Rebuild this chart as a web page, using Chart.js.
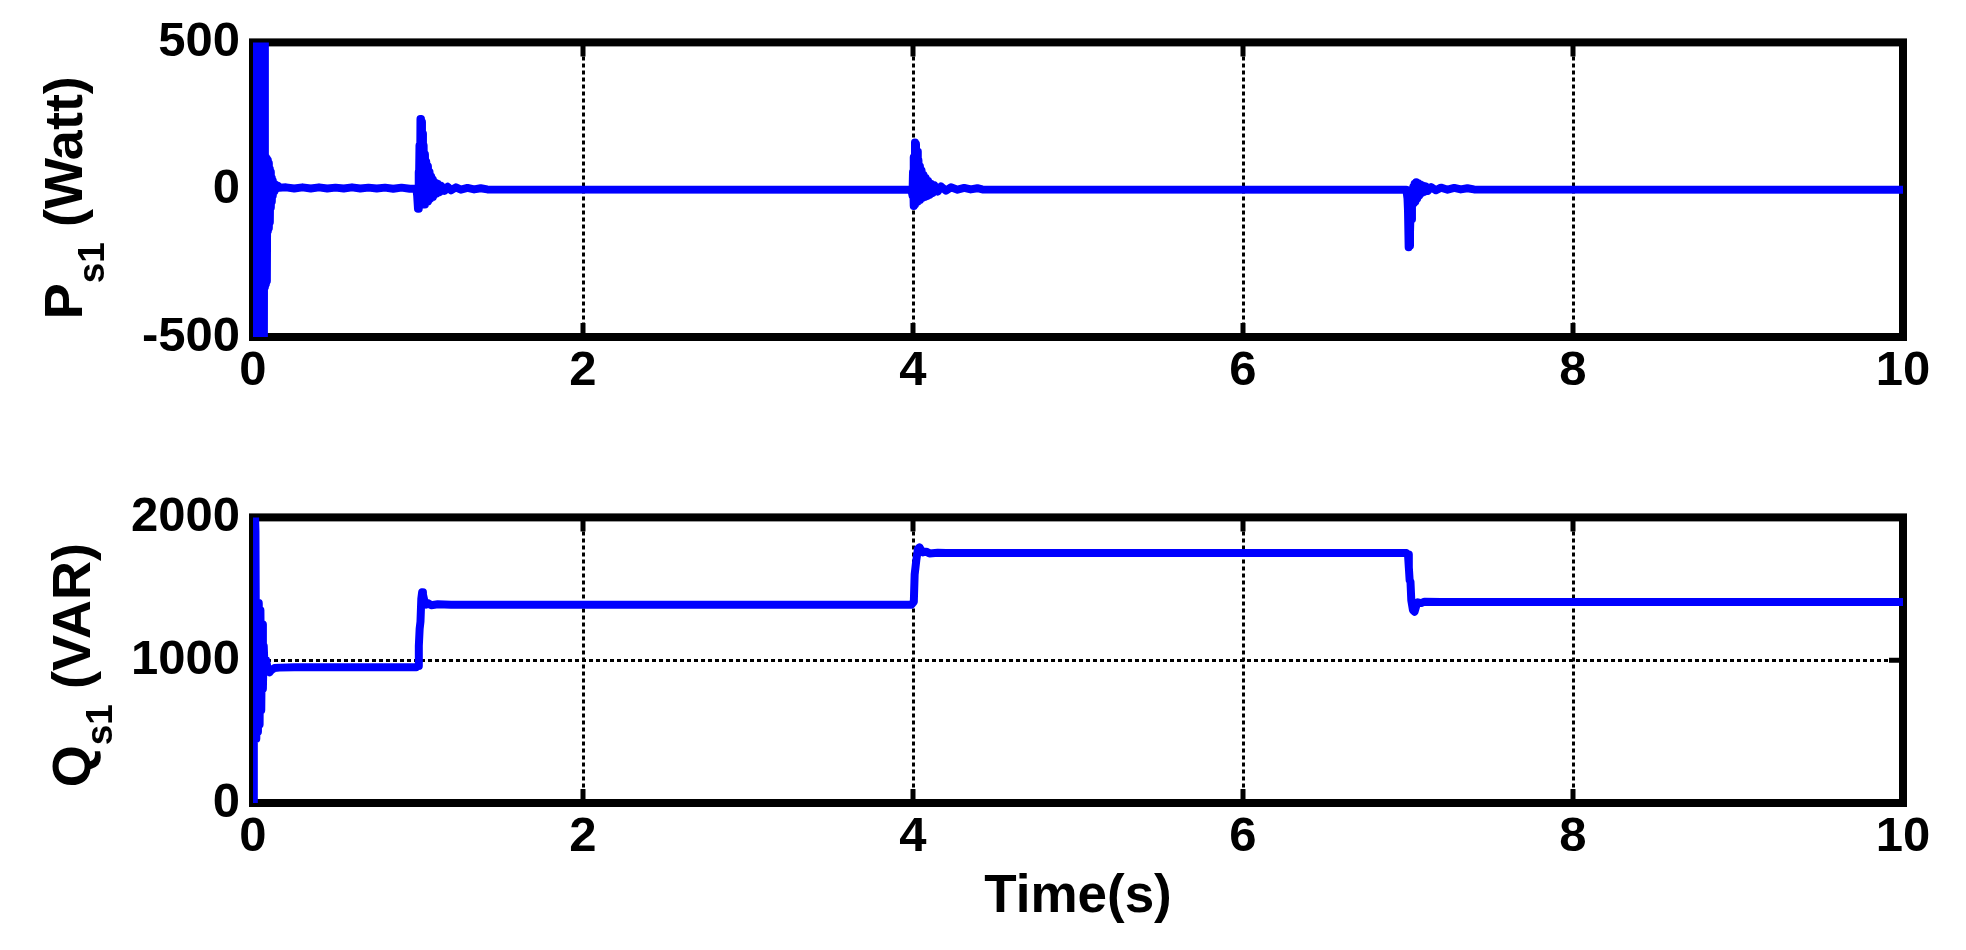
<!DOCTYPE html>
<html><head><meta charset="utf-8">
<script src="https://cdn.jsdelivr.net/npm/chart.js@4.4.0/dist/chart.umd.min.js"></script>
<style>
html,body{margin:0;padding:0;background:#fff;width:1966px;height:950px;overflow:hidden;}
.wrap{position:absolute;left:0;width:1966px;height:475px;}
#w1{top:0}
#w2{top:475px}
</style></head><body>
<div class="wrap" id="w1"><canvas id="c1" width="1966" height="475"></canvas></div>
<div class="wrap" id="w2"><canvas id="c2" width="1966" height="475"></canvas></div>
<script>
const xTicks = [0, 2, 4, 6, 8, 10];
const pTicks = [-500, 0, 500];
const qTicks = [0, 1000, 2000];
const xTitle = 'Time(s)';
const pLabel = ['P', 's1', ' (Watt)'];
const qLabel = ['Q', 's1', ' (VAR)'];

const pTime = [
0,0.003,0.006,0.009,0.012,0.015,0.018,0.021,0.024,0.027,0.030,0.033,0.036,0.039,0.042,0.045,0.048,0.051,0.054,0.057,0.060,0.063,0.066,0.069,0.072,0.075,0.078,0.081,0.084,0.087,0.090,0.093,0.096,0.099,0.102,0.105,0.108,0.111,0.114,0.117,0.120,0.125,0.130,0.135,0.140,0.150,0.160,
0.20,0.25,0.30,0.35,0.40,0.45,0.50,0.55,0.60,0.65,0.70,0.75,0.80,0.85,0.90,0.95,0.99,
0.995,1.000,1.003,1.006,1.009,1.012,1.015,1.018,1.021,1.024,1.027,1.030,1.034,1.038,1.042,1.046,1.050,1.055,1.060,1.065,1.070,1.075,1.080,1.085,1.090,1.095,1.100,1.11,1.12,1.13,1.14,1.16,1.18,1.20,1.23,1.26,1.30,1.34,1.38,1.42,
3.99,3.997,4.000,4.003,4.006,4.009,4.012,4.015,4.018,4.021,4.025,4.029,4.033,4.037,4.042,4.047,4.052,4.058,4.064,4.070,4.077,4.084,4.092,4.10,4.11,4.12,4.13,4.15,4.17,4.20,4.23,4.27,4.31,4.35,4.39,4.42,
6.99,6.997,7.000,7.004,7.008,7.012,7.016,7.020,7.024,7.028,7.032,7.036,7.040,7.045,7.050,7.056,7.062,7.068,7.075,7.083,7.09,7.10,7.11,7.12,7.14,7.17,7.20,7.24,7.28,7.32,7.36,7.40,10
];
const pValue = [
0,650,-650,640,-640,620,-630,620,-620,600,-610,600,-600,590,-590,580,-580,570,-570,560,-560,540,-530,520,-330,110,-320,105,-310,100,-140,90,-130,70,-110,60,-60,40,-40,30,-20,22,-5,18,2,14,7,
8,4,8,4,8,4,7,4,8,4,7,4,7,3,7,3,4,
-20,-65,60,-50,150,-40,240,-30,230,-45,190,-40,150,-50,120,-45,95,-40,80,-35,60,-30,45,-25,35,-20,26,-14,20,-9,14,-4,10,-2,8,0,6,1,5,1,
0,-20,60,-55,110,-50,160,-45,155,-40,130,-40,100,-35,80,-30,65,-28,50,-25,40,-22,30,-18,20,-11,15,-6,11,-3,8,0,6,1,5,1,
0,-30,-70,-195,-190,-150,-60,-100,-50,-40,10,-45,20,-40,25,-30,22,-20,18,-12,14,-7,11,-4,9,-2,7,0,6,1,5,1,0
];

const qTime = [
0,0.005,0.010,0.015,0.020,0.025,0.030,0.035,0.040,0.045,0.050,0.055,0.060,0.065,0.070,0.080,0.090,0.100,0.110,0.130,0.160,0.25,0.5,0.99,
1.000,1.005,1.010,1.015,1.020,1.025,1.030,1.040,1.050,1.060,1.080,1.12,1.2,3.99,
4.005,4.010,4.020,4.030,4.040,4.050,4.060,4.080,4.10,4.15,4.2,6.99,
7.000,7.005,7.010,7.015,7.020,7.030,7.040,7.050,7.060,7.080,7.10,7.2,10
];
const qValue = [
0,2100,2100,1900,450,1400,500,1400,550,1350,650,1250,800,1100,950,1000,930,915,930,945,948,950,950,950,
960,1100,1220,1270,1430,1475,1460,1410,1390,1400,1385,1392,1388,1388,
1410,1600,1700,1780,1790,1770,1755,1760,1748,1752,1750,1750,
1740,1650,1560,1550,1420,1350,1340,1380,1405,1400,1410,1408,1408
];

const FONT = '"Liberation Sans", Arial, sans-serif';

const framePlugin = {
  id: 'frame',
  beforeDatasetsDraw(chart) {
    const {ctx, chartArea: a, scales: {x, y}} = chart;
    ctx.save();
    ctx.strokeStyle = '#000';
    ctx.lineCap = 'butt';
    ctx.lineWidth = 5;
    x.ticks.forEach(t => {
      const px = x.getPixelForValue(t.value);
      ctx.beginPath();
      ctx.moveTo(px, a.bottom); ctx.lineTo(px, a.bottom - 14);
      ctx.moveTo(px, a.top); ctx.lineTo(px, a.top + 14);
      ctx.stroke();
    });
    y.ticks.forEach(t => {
      const py = y.getPixelForValue(t.value);
      ctx.beginPath();
      ctx.moveTo(a.left, py); ctx.lineTo(a.left + 14, py);
      ctx.moveTo(a.right, py); ctx.lineTo(a.right - 14, py);
      ctx.stroke();
    });
    ctx.lineWidth = 8;
    ctx.lineJoin = 'miter';
    ctx.strokeRect(a.left, a.top, a.right - a.left, a.bottom - a.top);
    ctx.restore();
  },
  afterDraw(chart, args, opts) {
    const {ctx, chartArea: a} = chart;
    const parts = opts.parts;
    const cy = (a.top + a.bottom) / 2 + opts.dy;
    ctx.save();
    ctx.translate(opts.x, cy);
    ctx.rotate(-Math.PI / 2);
    ctx.fillStyle = '#000';
    ctx.textBaseline = 'alphabetic';
    ctx.textAlign = 'left';
    const mainFont = 'bold 54px ' + FONT;
    const subFont = 'bold 37px ' + FONT;
    ctx.font = mainFont;
    const w0 = ctx.measureText(parts[0]).width;
    const w2 = ctx.measureText(parts[2]).width;
    ctx.font = subFont;
    const w1 = ctx.measureText(parts[1]).width;
    let sx = -(w0 + w1 + w2) / 2;
    ctx.font = mainFont; ctx.fillText(parts[0], sx, 0); sx += w0;
    ctx.font = subFont; ctx.fillText(parts[1], sx, 22); sx += w1;
    ctx.font = mainFont; ctx.fillText(parts[2], sx, 0);
    ctx.restore();
  }
};

function makeChart(id, times, values, yTicks, label, opts) {
  const pts = times.map((t, i) => ({x: t, y: values[i]}));
  return new Chart(document.getElementById(id), {
    type: 'line',
    data: {datasets: [{
      data: pts,
      borderColor: '#0000FF',
      borderWidth: 8,
      pointRadius: 0,
      tension: 0,
      borderJoinStyle: 'round',
      borderCapStyle: 'round',
      fill: false
    }]},
    plugins: [framePlugin],
    options: {
      responsive: false,
      animation: false,
      devicePixelRatio: 1,
      layout: {padding: {top: opts.padTop, right: 63, left: 0, bottom: 0}},
      plugins: {
        legend: {display: false},
        tooltip: {enabled: false},
        frame: {parts: label, x: opts.labelX, dy: opts.labelDy}
      },
      scales: {
        x: {
          type: 'linear', min: 0, max: 10,
          afterBuildTicks: s => { s.ticks = xTicks.map(v => ({value: v})); },
          afterFit: s => { s.height = opts.xHeight; },
          ticks: {color: '#000', padding: 5, font: {family: FONT, size: 49, weight: 'bold'}, maxRotation: 0,
                  callback: v => String(v)},
          grid: {color: '#000', lineWidth: 3, drawTicks: false},
          border: {display: false, dash: [4, 3]},
          title: {display: opts.showTitle, text: xTitle, color: '#000',
                  font: {family: FONT, size: 53, weight: 'bold'}, padding: {top: 0, bottom: 21}}
        },
        y: {
          type: 'linear', min: yTicks[0], max: yTicks[yTicks.length - 1],
          afterBuildTicks: s => { s.ticks = yTicks.map(v => ({value: v})); },
          afterFit: s => { s.width = 253; },
          ticks: {color: '#000', padding: 13, font: {family: FONT, size: 49, weight: 'bold'},
                  callback: v => String(v)},
          grid: {color: '#000', lineWidth: 3, drawTicks: false},
          border: {display: false, dash: [4, 3]}
        }
      }
    }
  });
}

makeChart('c1', pTime, pValue, pTicks, pLabel, {padTop: 40, xHeight: 138, showTitle: false, labelX: 82, labelDy: 8});
makeChart('c2', qTime, qValue, qTicks, qLabel, {padTop: 34, xHeight: 147, showTitle: true, labelX: 90, labelDy: 5});
</script>
</body></html>
